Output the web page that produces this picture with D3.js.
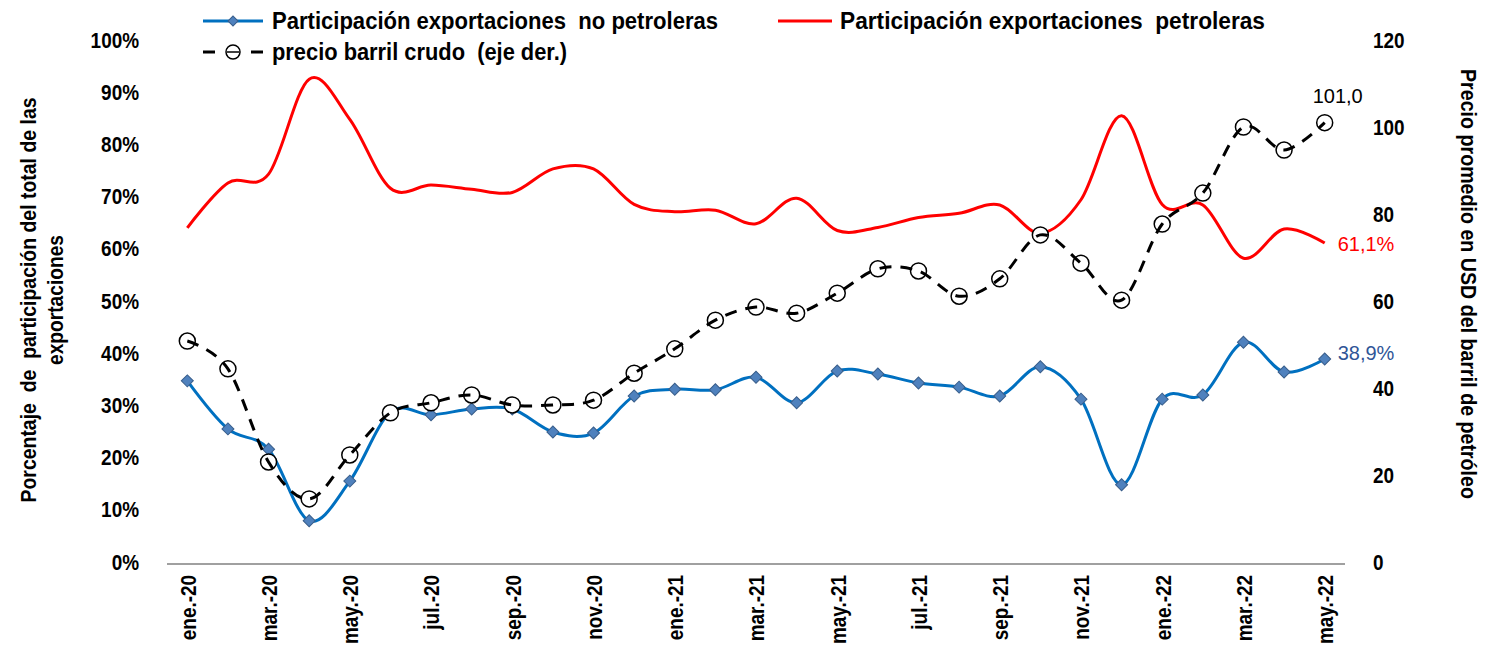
<!DOCTYPE html>
<meta charset="utf-8">
<script src="https://cdn.jsdelivr.net/npm/d3@7"></script>
<style>
  body { margin: 0; background: #fff; }
  text { font-family: "Liberation Sans", Arial, sans-serif; white-space: pre; }
</style>
<div class="vis"></div>
<script>
  // months ene.-20 .. may.-22
  const months = ["ene.-20","feb.-20","mar.-20","abr.-20","may.-20","jun.-20","jul.-20","ago.-20","sep.-20","oct.-20","nov.-20","dic.-20",
    "ene.-21","feb.-21","mar.-21","abr.-21","may.-21","jun.-21","jul.-21","ago.-21","sep.-21","oct.-21","nov.-21","dic.-21",
    "ene.-22","feb.-22","mar.-22","abr.-22","may.-22"];
  const tickMonths = months.filter((d, i) => i % 2 == 0);
  // share of non-oil exports (%)
  const noPetroleras = [34.7,25.5,21.6,7.9,15.5,28.7,28.2,29.3,29.3,24.9,24.7,31.8,
    33.1,33.0,35.4,30.5,36.6,36.0,34.3,33.5,31.8,37.4,31.2,14.8,
    31.2,32.0,42.1,36.4,38.9];
  // share of oil exports (%)
  const petroleras = [64.0,72.6,74.3,92.5,84.8,71.6,72.2,71.4,70.8,75.3,75.3,68.5,
    67.1,67.4,64.8,69.7,63.5,64.1,66.0,66.8,68.4,63.0,69.4,85.5,
    68.5,68.4,58.2,63.8,61.1];
  // average crude price, USD/barrel (right axis)
  const precio = [50.8,44.4,23.0,14.5,24.6,34.3,36.6,38.4,36.1,36.1,37.2,43.4,
    49.0,55.6,58.6,57.2,61.8,67.4,66.9,61.1,65.1,75.2,68.7,60.2,
    77.7,84.8,100.0,94.7,101.0];
  const leftTicks = [0,10,20,30,40,50,60,70,80,90,100];
  const rightTicks = [0,20,40,60,80,100,120];

  const W = 1485, H = 648;
  const svg = d3.select('.vis').append('svg')
    .attr("width", W).attr("height", H)
    .attr("viewBox", [0, 0, W, H]);

  // squeeze bold text a bit, the original font is narrow
  function narrow(sel, k) {
    sel.each(function() {
      const len = this.getComputedTextLength();
      d3.select(this).attr("textLength", len * k).attr("lengthAdjust", "spacingAndGlyphs");
    });
  }

  const x = d3.scalePoint().domain(months).range([167, 1345]).padding(0.5);
  const yL = d3.scaleLinear().domain([0, 100]).range([562, 40]);
  const yR = d3.scaleLinear().domain([0, 120]).range([562, 40]);

  // bottom axis
  const xAxis = svg.append("g")
    .attr("transform", "translate(0,564)")
    .call(d3.axisBottom(x).tickValues(tickMonths).tickSize(0).tickPadding(0));
  xAxis.select(".domain").attr("stroke", "#a0a0a0").attr("stroke-width", 2)
    .attr("d", "M167,0H1345");
  xAxis.selectAll("text")
    .attr("transform", "rotate(-90)")
    .attr("x", -11).attr("y", 0).attr("dy", "0.36em")
    .attr("text-anchor", "end")
    .attr("font-size", 22).attr("font-weight", "bold").attr("fill", "#000")
    .attr("font-family", "Liberation Sans, Arial, sans-serif")
    .call(narrow, 0.86);

  // left axis
  const lAxis = svg.append("g")
    .attr("transform", "translate(139,0)")
    .call(d3.axisLeft(yL).tickValues(leftTicks).tickSize(0).tickPadding(0).tickFormat(d => d + "%"));
  lAxis.select(".domain").remove();
  lAxis.selectAll("text")
    .attr("font-size", 22).attr("font-weight", "bold").attr("fill", "#000")
    .attr("font-family", "Liberation Sans, Arial, sans-serif")
    .call(narrow, 0.86);

  // right axis
  const rAxis = svg.append("g")
    .attr("transform", "translate(1373,0)")
    .call(d3.axisRight(yR).tickValues(rightTicks).tickSize(0).tickPadding(0));
  rAxis.select(".domain").remove();
  rAxis.selectAll("text")
    .attr("font-size", 22).attr("font-weight", "bold").attr("fill", "#000")
    .attr("font-family", "Liberation Sans, Arial, sans-serif")
    .call(narrow, 0.86);

  // axis titles
  const lTitle = svg.append("g").attr("transform", "translate(28,300) rotate(-90)");
  lTitle.append("text").attr("text-anchor", "middle").attr("dy", "0.35em")
    .attr("font-size", 22).attr("font-weight", "bold")
    .attr("textLength", 405).attr("lengthAdjust", "spacingAndGlyphs")
    .text("Porcentaje  de  participación del total de las");
  lTitle.append("text").attr("text-anchor", "middle").attr("y", 27).attr("dy", "0.35em")
    .attr("font-size", 22).attr("font-weight", "bold")
    .attr("textLength", 130).attr("lengthAdjust", "spacingAndGlyphs")
    .text("exportaciones");
  svg.append("text").attr("transform", "translate(1469,284) rotate(90)")
    .attr("text-anchor", "middle").attr("dy", "0.35em")
    .attr("font-size", 22).attr("font-weight", "bold")
    .attr("textLength", 430).attr("lengthAdjust", "spacingAndGlyphs")
    .text("Precio promedio en USD del barril de petróleo");

  const curve = d3.curveCardinal.tension(0);

  // red line
  svg.append("path")
    .attr("d", d3.line().x((d, i) => x(months[i])).y(d => yL(d)).curve(curve)(petroleras))
    .attr("fill", "none").attr("stroke", "#ff0000").attr("stroke-width", 3);

  // blue line with diamonds
  svg.append("path")
    .attr("d", d3.line().x((d, i) => x(months[i])).y(d => yL(d)).curve(curve)(noPetroleras))
    .attr("fill", "none").attr("stroke", "#0070c0").attr("stroke-width", 3);
  svg.selectAll(".dia")
    .data(noPetroleras)
    .join("path").attr("class", "dia")
    .attr("d", d3.symbol().type(d3.symbolSquare).size(72))
    .attr("transform", (d, i) => `translate(${x(months[i])},${yL(d)}) rotate(45)`)
    .attr("fill", "#4f81bd").attr("stroke", "#385d8a").attr("stroke-width", 1);

  // price: circles then dashed line over them
  svg.selectAll(".cir")
    .data(precio)
    .join("circle").attr("class", "cir")
    .attr("cx", (d, i) => x(months[i])).attr("cy", d => yR(d)).attr("r", 8)
    .attr("fill", "#fff").attr("stroke", "#000").attr("stroke-width", 1.5);
  svg.append("path")
    .attr("d", d3.line().x((d, i) => x(months[i])).y(d => yR(d)).curve(curve)(precio))
    .attr("fill", "none").attr("stroke", "#000").attr("stroke-width", 3)
    .attr("stroke-dasharray", "12,9");

  // end labels
  const last = months.length - 1;
  const lblFont = "Carlito, Open Sans, Liberation Sans, sans-serif";
  svg.append("text").attr("x", x(months[last]) - 12).attr("y", yR(precio[last]) - 20)
    .attr("font-size", 20).attr("font-family", lblFont).attr("fill", "#000")
    .text("101,0");
  svg.append("text").attr("x", x(months[last]) + 13).attr("y", yL(petroleras[last]) + 1).attr("dy", "0.35em")
    .attr("font-size", 20).attr("font-family", lblFont).attr("fill", "#ff0000")
    .text("61,1%");
  svg.append("text").attr("x", x(months[last]) + 13).attr("y", yL(noPetroleras[last]) - 6).attr("dy", "0.35em")
    .attr("font-size", 20).attr("font-family", lblFont).attr("fill", "#2f5597")
    .text("38,9%");

  // legend
  const leg = svg.append("g");
  leg.append("line").attr("x1", 203).attr("x2", 263).attr("y1", 21).attr("y2", 21)
    .attr("stroke", "#0070c0").attr("stroke-width", 3);
  leg.append("path").attr("d", d3.symbol().type(d3.symbolSquare).size(50))
    .attr("transform", "translate(233,21) rotate(45)").attr("fill", "#4f81bd").attr("stroke", "#385d8a");
  leg.append("text").attr("x", 272).attr("y", 21).attr("dy", "0.35em")
    .attr("font-size", 23).attr("font-weight", "bold")
    .attr("textLength", 446).attr("lengthAdjust", "spacingAndGlyphs")
    .text("Participación exportaciones  no petroleras");
  leg.append("line").attr("x1", 778).attr("x2", 832).attr("y1", 21).attr("y2", 21)
    .attr("stroke", "#ff0000").attr("stroke-width", 3);
  leg.append("text").attr("x", 840).attr("y", 21).attr("dy", "0.35em")
    .attr("font-size", 23).attr("font-weight", "bold")
    .attr("textLength", 425).attr("lengthAdjust", "spacingAndGlyphs")
    .text("Participación exportaciones  petroleras");
  leg.append("line").attr("x1", 203).attr("x2", 263).attr("y1", 52).attr("y2", 52)
    .attr("stroke", "#000").attr("stroke-width", 3).attr("stroke-dasharray", "12,12");
  leg.append("circle").attr("cx", 233).attr("cy", 52).attr("r", 7)
    .attr("fill", "#fff").attr("stroke", "#000").attr("stroke-width", 1.5);
  leg.append("line").attr("x1", 227).attr("x2", 239).attr("y1", 52).attr("y2", 52)
    .attr("stroke", "#000").attr("stroke-width", 1.5);
  leg.append("text").attr("x", 272).attr("y", 52).attr("dy", "0.35em")
    .attr("font-size", 23).attr("font-weight", "bold")
    .attr("textLength", 295).attr("lengthAdjust", "spacingAndGlyphs")
    .text("precio barril crudo  (eje der.)");
</script>
